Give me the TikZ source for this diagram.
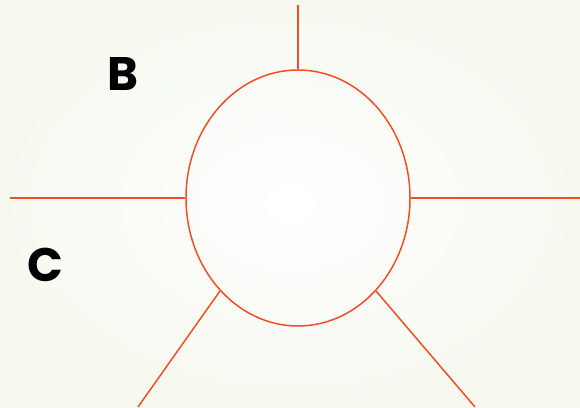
\documentclass[tikz,border=0pt]{standalone}
\usepackage{fontspec}
\setmainfont{Poppins}[UprightFont=* Bold]
\usetikzlibrary{shapes.geometric}
\definecolor{raio}{RGB}{242,78,36}
\definecolor{fundo}{RGB}{247,249,241}
\tikzset{
	lado/.style={draw=raio, line width=1.5pt},
	letra/.style={font=\fontsize{47}{47}\selectfont, inner sep=0pt}
}
\begin{document}
\begin{tikzpicture}[x=1pt, y=-1pt]

% Fundo
	\shade[inner color=white, outer color=fundo] (0,0) rectangle (580,407);
	\useasboundingbox (0,0) rectangle (580,407);

% Elipse central
	\node[ellipse, lado, minimum width=224pt, minimum height=256pt, inner sep=0pt] (roda) at (298,198) {};

% Extremos
	\coordinate (cima) at (298,5);
	\coordinate (esq) at (10,198);
	\coordinate (dir) at (580,198);
	\coordinate (baixoesq) at (138,407);
	\coordinate (baixodir) at (475,407);

% Raios
	\draw[lado] (roda.north) -- (cima);
	\draw[lado] (roda.west) -- (esq);
	\draw[lado] (roda.east) -- (dir);
	\draw[lado] (roda.230) -- (baixoesq);
	\draw[lado] (roda.310) -- (baixodir);

% Letras
	\node[letra] (letraB) at (123,74) {B};
	\node[letra] (letraC) at (45,265) {C};
\end{tikzpicture}
\end{document}
